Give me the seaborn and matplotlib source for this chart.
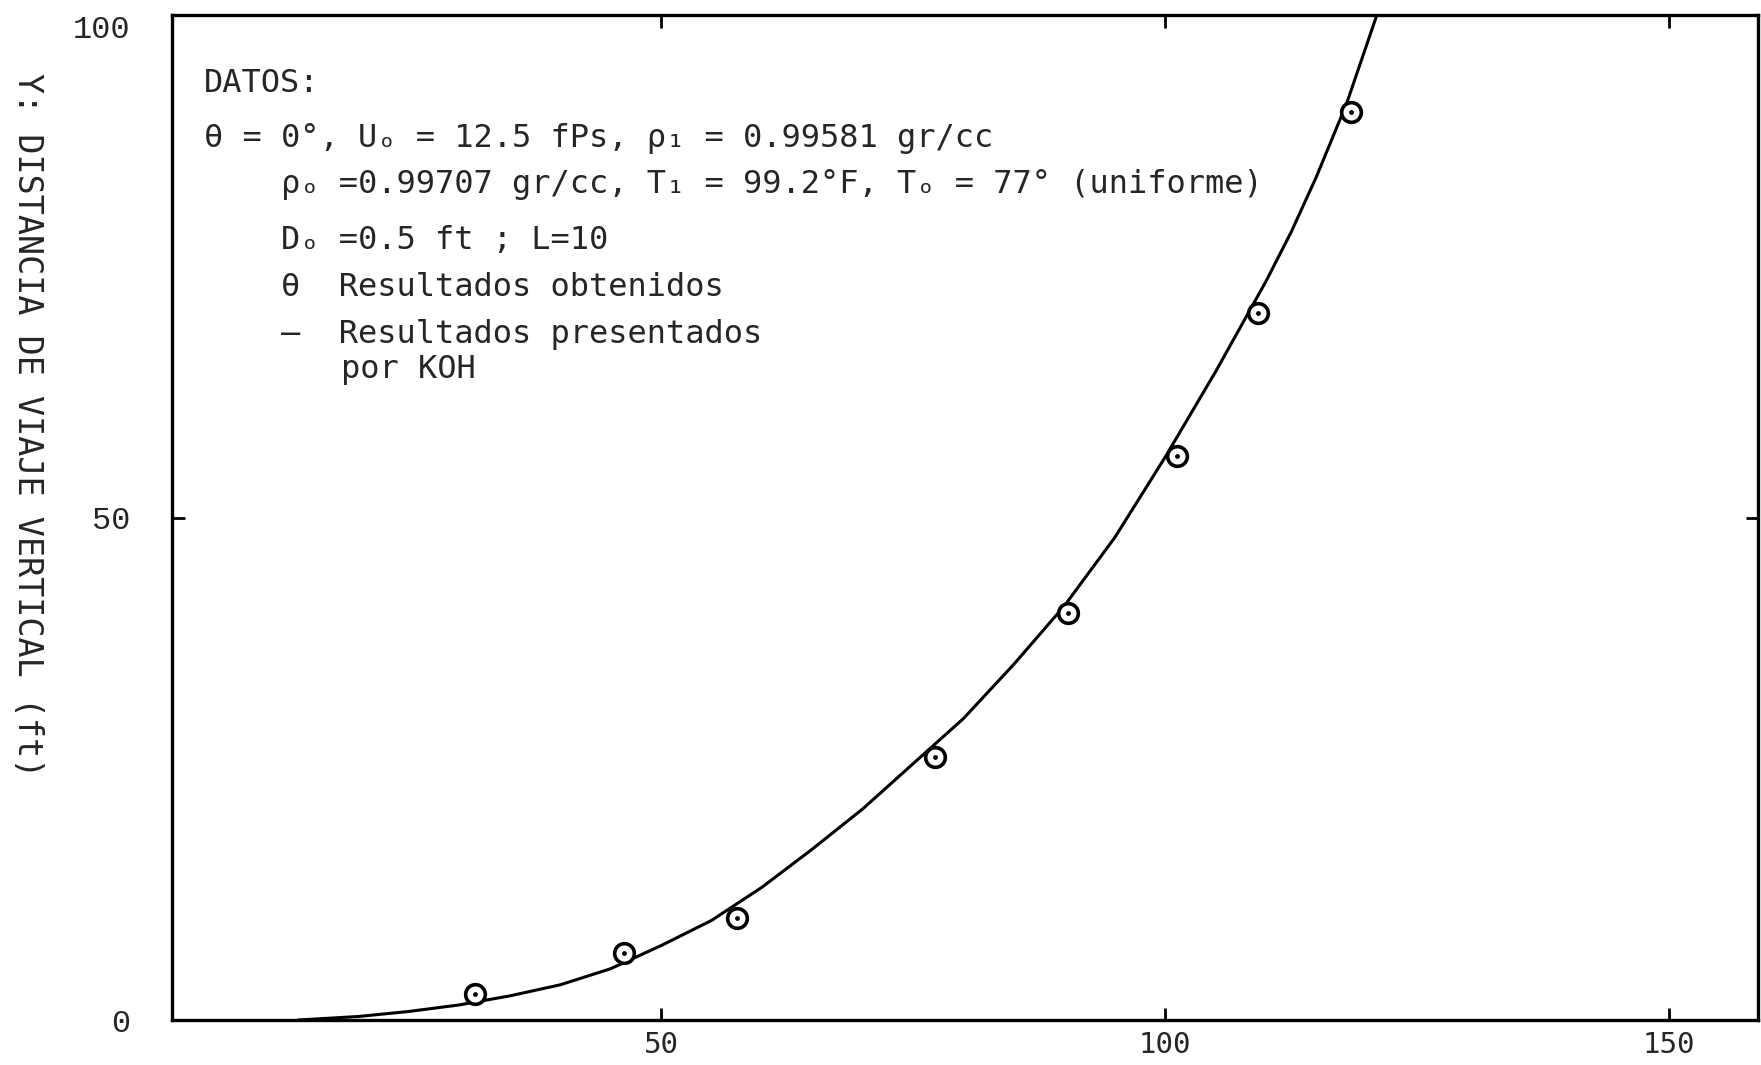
import matplotlib
matplotlib.use("Agg")
import matplotlib.pyplot as plt
import seaborn as sns
import pandas as pd

# ---- data ----
obs_x = [31.6, 46.3, 57.5, 77.2, 90.4, 101.2, 109.2, 118.4]
obs_y = [2.6, 6.7, 10.1, 26.2, 40.5, 56.1, 70.3, 90.3]

koh_x = [14, 20, 25, 30, 35, 40, 45, 50, 55, 60, 65, 70, 75, 80, 85, 90, 95, 100, 105, 110, 112.5, 115, 118, 121]
koh_y = [0.0, 0.35, 0.85, 1.5, 2.4, 3.5, 5.1, 7.4, 9.9, 13.2, 17.0, 21.0, 25.5, 30.0, 35.4, 41.2, 48.0, 56.0, 64.5, 73.5, 78.4, 83.9, 91.2, 100.0]

x_ticks = [50, 100, 150]
y_ticks = [0, 50, 100]
y_label = "Y: DISTANCIA DE VIAJE VERTICAL (ft)"

sns.set_theme(style="white")
plt.rcParams["font.family"] = ["DejaVu Sans Mono", "DejaVu Sans"]

W, H = 1761, 1065
fig = plt.figure(figsize=(W / 100, H / 100), dpi=100)
ax = fig.add_axes([172 / W, 1 - 1020 / H, (1758 - 172) / W, (1020 - 15) / H])

df_curve = pd.DataFrame({"x": koh_x, "y": koh_y})
df_obs = pd.DataFrame({"x": obs_x, "y": obs_y})

sns.lineplot(data=df_curve, x="x", y="y", ax=ax, color="black", linewidth=2.2,
             sort=False, estimator=None)
sns.scatterplot(data=df_obs, x="x", y="y", ax=ax, s=200, facecolor="white",
                edgecolor="black", linewidth=2.6, marker="o", zorder=3)
sns.scatterplot(data=df_obs, x="x", y="y", ax=ax, s=12, color="black",
                edgecolor="black", linewidth=0, marker="o", zorder=4)

ax.set_xlim(1.5, 158.8)
ax.set_ylim(0, 100)
ax.set_xticks(x_ticks)
ax.set_yticks(y_ticks)
ax.set_xticklabels([str(v) for v in x_ticks], fontsize=21, family="DejaVu Sans Mono")
ax.set_yticklabels([str(v) for v in y_ticks], fontsize=23, family="Liberation Mono")
ax.set_xlabel("")
ax.set_ylabel("")
ax.tick_params(axis="both", direction="in", length=9, width=2, color="black",
               top=True, right=True, bottom=True, left=True)
ax.tick_params(axis="x", pad=8)
ax.tick_params(axis="y", pad=30)
ax.get_yticklabels()[-1].set_va("top")
for s in ax.spines.values():
    s.set_color("black")
    s.set_linewidth(2.4)
ax.grid(False)

fig.text(27 / W, 1 - 425 / H, y_label, rotation=-90, ha="center", va="center", fontsize=24)

def ftxt(x, y, s, **kw):
    fig.text(x / W, 1 - y / H, s, ha="left", va="baseline", fontsize=23, **kw)

ftxt(204, 92, "DATOS:")
ftxt(204, 147, "θ = 0°, Uₒ = 12.5 fPs, ρ₁ = 0.99581 gr/cc")
ftxt(281, 193, "ρₒ =0.99707 gr/cc, T₁ = 99.2°F, Tₒ = 77° (uniforme)")
ftxt(281, 249, "Dₒ =0.5 ft ; L=10")
ftxt(281, 296, "θ  Resultados obtenidos")
ftxt(281, 343, "–  Resultados presentados")
ftxt(341, 378, "por KOH")

fig.savefig("out.png", dpi=100, facecolor="white")
